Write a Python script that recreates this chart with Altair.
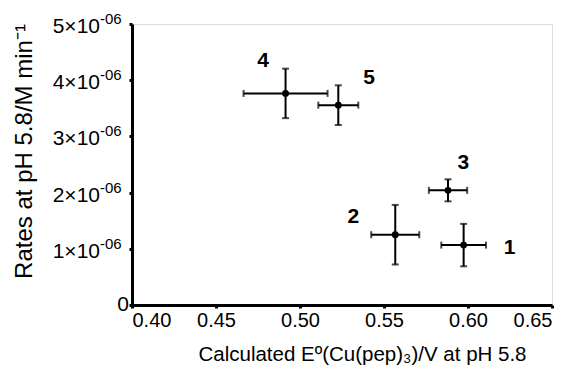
import altair as alt
import pandas as pd

ids = ["1", "2", "3", "4", "5"]
potential = [0.5974, 0.5567, 0.5881, 0.4914, 0.5228]
potential_err = [0.0133, 0.0143, 0.0114, 0.0250, 0.0119]
rate = [1.066e-6, 1.251e-6, 2.040e-6, 3.765e-6, 3.556e-6]
rate_err = [0.378e-6, 0.530e-6, 0.196e-6, 0.440e-6, 0.353e-6]
label_x = [0.6247, 0.5317, 0.5973, 0.4780, 0.5412]
label_y = [1.007e-6, 1.560e-6, 2.520e-6, 4.340e-6, 4.040e-6]

x_ticks = [0.40, 0.45, 0.50, 0.55, 0.60, 0.65]
y_ticks = [0, 1e-6, 2e-6, 3e-6, 4e-6, 5e-6]
y_tick_main = ["0", "1×10", "2×10", "3×10", "4×10", "5×10"]
y_tick_sup = ["", "-06", "-06", "-06", "-06", "-06"]

df = pd.DataFrame({
    "id": ids, "x": potential, "xe": potential_err, "y": rate, "ye": rate_err,
    "lx": label_x, "ly": label_y,
})
df["xlo"] = df["x"] - df["xe"]
df["xhi"] = df["x"] + df["xe"]
df["ylo"] = df["y"] - df["ye"]
df["yhi"] = df["y"] + df["ye"]

ylab = pd.DataFrame({"v": y_ticks, "main": y_tick_main, "sup": y_tick_sup})
ylab_exp = ylab[ylab["sup"] != ""]
ylab_zero = ylab[ylab["sup"] == ""]

FONT = "Liberation Sans"

xs = alt.Scale(domain=[0.40, 0.65], nice=False, zero=False)
ys = alt.Scale(domain=[0, 5e-6], nice=False)

xaxis = alt.Axis(
    values=x_ticks, format=".2f", title="Calculated Eº(Cu(pep)₃)/V at pH 5.8",
    grid=False, domainColor="black", domainWidth=3, tickColor="black", tickWidth=3,
    tickSize=3, labelFont=FONT, labelFontSize=20, labelColor="black", labelPadding=2,
    titleFont=FONT, titleFontSize=20.5, titleFontWeight="normal", titleColor="black",
    titlePadding=14, titleX=230,
)
yaxis = alt.Axis(
    values=y_ticks, title="Rates at pH 5.8/M min⁻¹", labels=False,
    grid=False, domainColor="black", domainWidth=3, tickColor="black", tickWidth=3,
    tickSize=3,
    titleFont=FONT, titleFontSize=24, titleFontWeight="normal", titleColor="black",
    titlePadding=91, titleY=127,
)

base = alt.Chart(df)

hbar = base.mark_rule(color="black", strokeWidth=2).encode(
    x=alt.X("xlo:Q", scale=xs, axis=xaxis), x2="xhi:Q",
    y=alt.Y("y:Q", scale=ys, axis=yaxis),
)
vbar = base.mark_rule(color="black", strokeWidth=2).encode(
    x=alt.X("x:Q", scale=xs), y=alt.Y("ylo:Q", scale=ys), y2="yhi:Q",
)
capl = base.mark_tick(color="black", orient="vertical", size=7, thickness=2).encode(
    x=alt.X("xlo:Q", scale=xs), y=alt.Y("y:Q", scale=ys))
capr = base.mark_tick(color="black", orient="vertical", size=7, thickness=2).encode(
    x=alt.X("xhi:Q", scale=xs), y=alt.Y("y:Q", scale=ys))
capb = base.mark_tick(color="black", orient="horizontal", size=7, thickness=2).encode(
    x=alt.X("x:Q", scale=xs), y=alt.Y("ylo:Q", scale=ys))
capt = base.mark_tick(color="black", orient="horizontal", size=7, thickness=2).encode(
    x=alt.X("x:Q", scale=xs), y=alt.Y("yhi:Q", scale=ys))
pts = base.mark_circle(color="black", size=48, opacity=1).encode(
    x=alt.X("x:Q", scale=xs), y=alt.Y("y:Q", scale=ys))
labels = base.mark_text(font=FONT, fontSize=21, fontWeight="bold", color="black",
                        align="center", baseline="middle").encode(
    x=alt.X("lx:Q", scale=xs), y=alt.Y("ly:Q", scale=ys), text="id:N")

ymain = alt.Chart(ylab_exp).mark_text(font=FONT, fontSize=21, color="black",
                                      align="right", baseline="middle", dy=3).encode(
    x=alt.value(-32), y=alt.Y("v:Q", scale=ys), text="main:N")
ysup = alt.Chart(ylab_exp).mark_text(font=FONT, fontSize=15, color="black",
                                     align="left", baseline="middle", dy=-5).encode(
    x=alt.value(-32), y=alt.Y("v:Q", scale=ys), text="sup:N")
yzero = alt.Chart(ylab_zero).mark_text(font=FONT, fontSize=21, color="black",
                                       align="right", baseline="middle", dy=0).encode(
    x=alt.value(-3), y=alt.Y("v:Q", scale=ys), text="main:N")

chart = alt.layer(hbar, vbar, capl, capr, capb, capt, pts, labels,
                  ymain, ysup, yzero).properties(
    width=420, height=281,
    autosize=alt.AutoSizeParams(type="none"),
    padding={"left": 132, "top": 24, "right": 25, "bottom": 70},
).configure_view(stroke=None).configure(background="white")

chart.save("out.html", embed_options={"renderer": "svg", "actions": False})
